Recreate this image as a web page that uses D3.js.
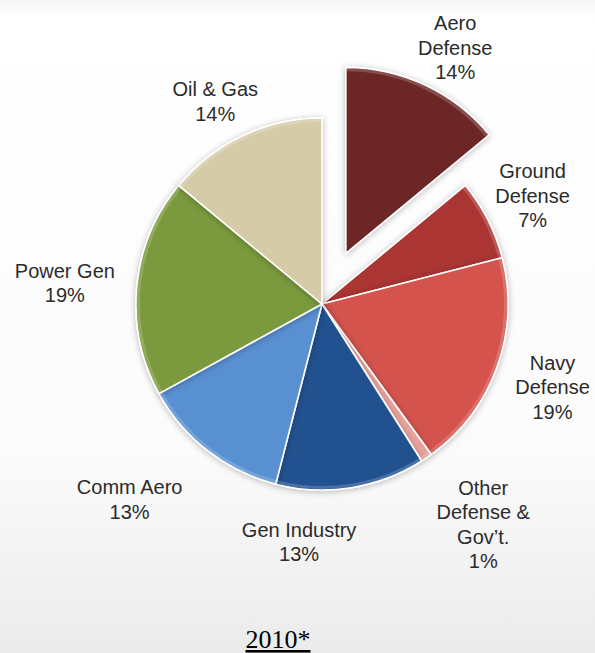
<!DOCTYPE html>
<html>
<head>
<meta charset="utf-8">
<script src="https://cdn.jsdelivr.net/npm/d3@7"></script>
<style>
  html, body { margin: 0; padding: 0; background: #fff; }
  svg { display: block; }
</style>
</head>
<body>
<svg id="chart" width="595" height="653"></svg>
<script>
// Revenue mix by market segment, 2010 (percent of total)
const segments = ["Aero Defense", "Ground Defense", "Navy Defense", "Other Defense & Gov't.",
                  "Gen Industry", "Comm Aero", "Power Gen", "Oil & Gas"];
const shares = [14, 7, 19, 1, 13, 13, 19, 14];
const labelLines = [["Aero", "Defense"], ["Ground", "Defense"], ["Navy", "Defense"],
                    ["Other", "Defense &", "Gov\u2019t."], ["Gen Industry"], ["Comm Aero"],
                    ["Power Gen"], ["Oil & Gas"]];
const sliceColors = ["#6d2627", "#ab3531", "#d4524d", "#e8a39b", "#225190", "#5890d2", "#7a9a3c", "#d5cba6"];
const explodedSegment = "Aero Defense";
const yearLabel = "2010*";

// layout
const W = 595, H = 653;
const cx = 322, cy = 304, R = 186, explode = 56;
// label placement: angular nudge (deg) and distance from slice origin
const labelPlacement = [[2.8, 233], [-0.3, 237], [0, 245], [-2, 273], [14.5, 239], [6.8, 274], [-0.7, 258], [-2.6, 229]];
const lineH = 24.5;

const svg = d3.select("#chart");
const defs = svg.append("defs");

// faint background wash towards the bottom
const bg = defs.append("linearGradient").attr("id", "bg").attr("x1", 0).attr("y1", 0).attr("x2", 0).attr("y2", 1);
bg.append("stop").attr("offset", 0).attr("stop-color", "#f6f6f6");
bg.append("stop").attr("offset", 0.03).attr("stop-color", "#ffffff");
bg.append("stop").attr("offset", 0.7).attr("stop-color", "#fbfbfb");
bg.append("stop").attr("offset", 1).attr("stop-color", "#ebebeb");
svg.append("rect").attr("width", W).attr("height", H).attr("fill", "url(#bg)");

const shadow = defs.append("filter").attr("id", "shadow")
  .attr("x", "-20%").attr("y", "-20%").attr("width", "140%").attr("height", "140%");
shadow.append("feDropShadow").attr("dx", 0).attr("dy", 1).attr("stdDeviation", 3)
  .attr("flood-color", "#000").attr("flood-opacity", 0.28);

const pie = d3.pie().sort(null).value(d => d).startAngle(0).endAngle(2 * Math.PI);
const arcs = pie(shares);
const arc = d3.arc().innerRadius(0).outerRadius(R);

const g = svg.append("g").attr("transform", `translate(${cx},${cy})`);

function offsetOf(d, i) {
  if (segments[i] !== explodedSegment) return [0, 0];
  const a = (d.startAngle + d.endAngle) / 2;
  return [Math.sin(a) * explode, -Math.cos(a) * explode];
}

const slices = g.selectAll("g.slice").data(arcs).join("g")
  .attr("class", "slice")
  .attr("transform", (d, i) => { const o = offsetOf(d, i); return `translate(${o[0]},${o[1]})`; })
  .attr("filter", "url(#shadow)");

slices.append("path")
  .attr("d", arc)
  .attr("fill", (d, i) => sliceColors[i])
  .attr("stroke", "#ffffff")
  .attr("stroke-width", 1.6)
  .attr("stroke-linejoin", "round");

// soft highlight along the rim of each slice
slices.append("path")
  .attr("d", d3.arc().innerRadius(R - 4).outerRadius(R - 1))
  .attr("fill", "#ffffff")
  .attr("opacity", 0.18);

// labels
const labels = g.selectAll("text.lbl").data(arcs).join("text")
  .attr("class", "lbl")
  .attr("font-family", "Liberation Sans, Arial, sans-serif")
  .attr("font-size", 20)
  .attr("fill", "#2b2b2b")
  .attr("text-anchor", "middle");

labels.each(function (d, i) {
  const o = offsetOf(d, i);
  const a = (d.startAngle + d.endAngle) / 2 + labelPlacement[i][0] * Math.PI / 180;
  const r = labelPlacement[i][1];
  const x = o[0] + Math.sin(a) * r;
  const y = o[1] - Math.cos(a) * r;
  const lines = labelLines[i].concat([shares[i] + "%"]);
  const top = y - (lines.length - 1) * lineH / 2;
  const t = d3.select(this);
  lines.forEach((ln, k) => {
    t.append("tspan").attr("x", x).attr("y", top + k * lineH).attr("dy", "0.36em").text(ln);
  });
});

// year caption
const cap = svg.append("text")
  .attr("x", 278).attr("y", 648)
  .attr("text-anchor", "middle")
  .attr("font-family", "Liberation Serif, Times New Roman, serif")
  .attr("font-size", 26)
  .attr("fill", "#000")
  .attr("text-decoration", "underline")
  .text(yearLabel);
</script>
</body>
</html>
